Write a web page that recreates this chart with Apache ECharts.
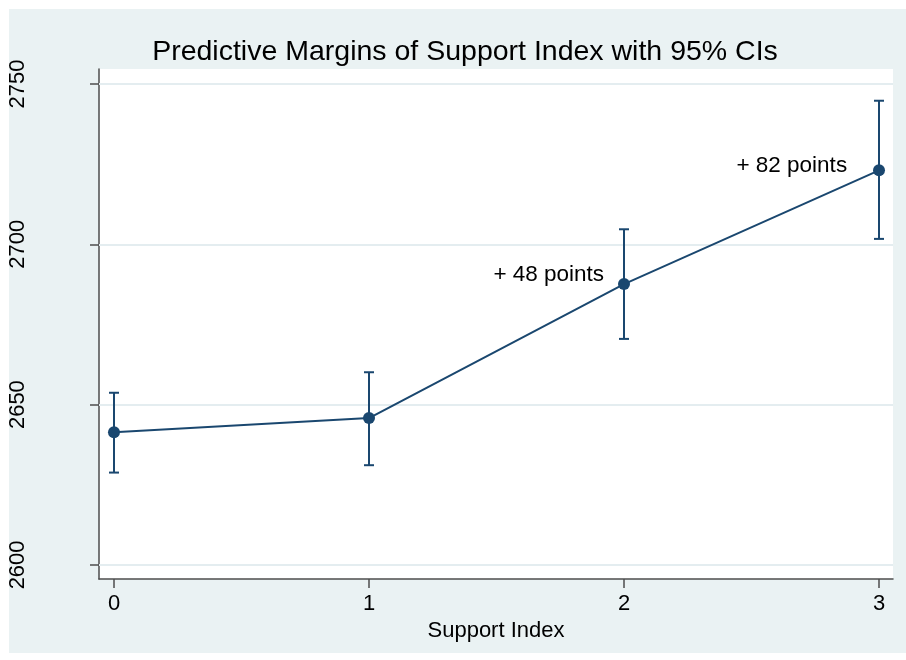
<!DOCTYPE html>
<html>
<head>
<meta charset="utf-8">
<script src="https://cdn.jsdelivr.net/npm/echarts@6/dist/echarts.min.js"></script>
<style>
html,body{margin:0;padding:0;background:#ffffff;}
#chart{width:906px;height:660px;}
</style>
</head>
<body>
<div id="chart"></div>
<script>
// ---- data ----
var supportIndex = [0, 1, 2, 3];
var margins = [2641.4, 2645.8, 2687.6, 2723.1];
var ciLower = [2628.8, 2631.1, 2670.5, 2701.7];
var ciUpper = [2653.7, 2660.1, 2704.7, 2744.8];
var yTicks = [2600, 2650, 2700, 2750];
var xTicks = [0, 1, 2, 3];
var annoX = [1.922, 2.875];
var annoY = [2690.4, 2724.4];
var annoText = ['+ 48 points', '+ 82 points'];
var titleText = 'Predictive Margins of Support Index with 95% CIs';
var xAxisTitle = 'Support Index';

// ---- styles ----
var FONT = '"Liberation Sans", Arial, Helvetica, sans-serif';
var NAVY = '#1a476f';
var BG = '#eaf2f3';
var GRID = '#e4edf0';
var AXIS = '#4d4d4d';

var chart = echarts.init(document.getElementById('chart'), null, {renderer: 'canvas'});

var lineData = supportIndex.map(function (x, i) { return [x, margins[i]]; });
var ciData = supportIndex.map(function (x, i) { return [x, ciLower[i], ciUpper[i]]; });
var annoData = annoX.map(function (x, i) { return {value: [x, annoY[i]], name: annoText[i]}; });

var option = {
  animation: false,
  backgroundColor: '#ffffff',
  graphic: [{
    type: 'rect', z: -10, silent: true,
    shape: {x: 9, y: 9, width: 897, height: 644},
    style: {fill: BG}
  }],
  title: {
    text: titleText,
    left: 460,
    textAlign: 'center',
    top: 33,
    textStyle: {fontFamily: FONT, fontSize: 28.5, fontWeight: 'normal', color: '#000'}
  },
  grid: {
    left: 99, right: 13, top: 69, bottom: 81,
    show: true, backgroundColor: '#ffffff', borderWidth: 0
  },
  xAxis: {
    type: 'value',
    min: -0.0588, max: 3.0549,
    name: xAxisTitle,
    nameLocation: 'middle',
    nameGap: 37,
    nameTextStyle: {fontFamily: FONT, fontSize: 22, color: '#000'},
    axisLine: {show: true, onZero: false, lineStyle: {color: AXIS, width: 1.5}},
    axisTick: {show: true, length: 9, customValues: xTicks, lineStyle: {color: AXIS, width: 1.5}},
    axisLabel: {customValues: xTicks, margin: 14, fontFamily: FONT, fontSize: 22, color: '#000'},
    splitLine: {show: false}
  },
  yAxis: {
    type: 'value',
    min: 2595.6, max: 2754.7,
    axisLine: {show: true, onZero: false, lineStyle: {color: AXIS, width: 1.5}},
    axisTick: {show: true, length: 9, customValues: yTicks, lineStyle: {color: AXIS, width: 1.5}},
    axisLabel: {
      customValues: yTicks, rotate: 90, margin: 70,
      formatter: function (v) { return String(v); },
      fontFamily: FONT, fontSize: 22, color: '#000'
    },
    splitLine: {show: false}
  },
  series: [
    {
      type: 'line',
      data: lineData,
      symbol: 'circle',
      symbolSize: 12,
      itemStyle: {color: NAVY},
      lineStyle: {color: NAVY, width: 2},
      z: 5,
      markLine: {
        silent: true,
        symbol: ['none', 'none'],
        label: {show: false},
        lineStyle: {color: GRID, width: 2, type: 'solid'},
        z: 1,
        data: yTicks.map(function (v) { return {yAxis: v}; })
      }
    },
    {
      type: 'custom',
      data: ciData,
      z: 4,
      renderItem: function (params, api) {
        var x = api.value(0);
        var lo = api.coord([x, api.value(1)]);
        var hi = api.coord([x, api.value(2)]);
        var hw = 5;
        var st = {stroke: NAVY, lineWidth: 2, fill: null};
        return {
          type: 'group',
          children: [
            {type: 'line', shape: {x1: lo[0], y1: lo[1], x2: hi[0], y2: hi[1]}, style: st},
            {type: 'line', shape: {x1: lo[0] - hw, y1: lo[1], x2: lo[0] + hw, y2: lo[1]}, style: st},
            {type: 'line', shape: {x1: hi[0] - hw, y1: hi[1], x2: hi[0] + hw, y2: hi[1]}, style: st}
          ]
        };
      }
    },
    {
      type: 'scatter',
      data: annoData,
      symbolSize: 0,
      silent: true,
      itemStyle: {opacity: 1},
      label: {
        show: true,
        position: [0, 0],
        align: 'right',
        verticalAlign: 'middle',
        formatter: function (p) { return p.name; },
        fontFamily: FONT, fontSize: 22.5, color: '#000',
        textBorderWidth: 0, opacity: 1
      }
    }
  ]
};
chart.setOption(option);
</script>
</body>
</html>
